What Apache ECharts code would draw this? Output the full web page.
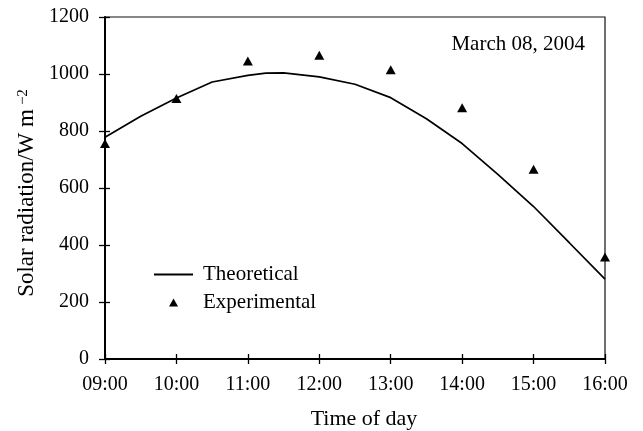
<!DOCTYPE html>
<html>
<head>
<meta charset="utf-8">
<script src="https://cdn.jsdelivr.net/npm/echarts@6/dist/echarts.min.js"></script>
<style>
  html, body { margin: 0; padding: 0; background: #ffffff; }
  #chart { width: 643px; height: 431px; }
</style>
</head>
<body>
<div id="chart"></div>
<script>
// Theoretical solar radiation curve (decimal hour of day, W m^-2)
const theoryHours  = [9.0, 9.5, 10.0, 10.5, 11.0, 11.25, 11.5, 12.0, 12.5, 13.0, 13.5, 14.0, 14.5, 15.0, 15.5, 16.0];
const theoryValues = [778, 852, 916, 972, 995, 1003, 1004, 990, 964, 917, 843, 756, 648, 535, 408, 280];

// Measured solar radiation, hourly (W m^-2)
const expHours  = [9, 10, 11, 12, 13, 14, 15, 16];
const expValues = [756, 914, 1046, 1066, 1015, 882, 666, 358];

// Axis ticks
const hourTicks  = [9, 10, 11, 12, 13, 14, 15, 16];
const hourLabels = ['09:00', '10:00', '11:00', '12:00', '13:00', '14:00', '15:00', '16:00'];
const yMin = 0, yMax = 1200, yStep = 200;

const FONT = "'Liberation Serif', 'Times New Roman', serif";
const INK = '#000000';

// Small filled triangle centred in a 39x8 legend slot
const LEGEND_TRIANGLE = 'path://M0,0 L0,0 M15,8 L19.5,0 L24,8 Z M39,8 L39,8';

const theorySeries = theoryHours.map((h, i) => [h, theoryValues[i]]);
const expSeries = expHours.map((h, i) => [h, expValues[i]]);

function hourLabel(v) {
  const i = hourTicks.indexOf(Math.round(v));
  return i >= 0 ? hourLabels[i] : '';
}

const xCommon = {
  type: 'value',
  min: hourTicks[0],
  max: hourTicks[hourTicks.length - 1],
  interval: 1,
  position: 'bottom',
  splitLine: { show: false }
};
const yCommon = {
  type: 'value',
  min: yMin,
  max: yMax,
  interval: yStep,
  position: 'left',
  splitLine: { show: false }
};

const chart = echarts.init(document.getElementById('chart'), null, { renderer: 'canvas' });

chart.setOption({
  animation: false,
  backgroundColor: '#ffffff',
  textStyle: { fontFamily: FONT, color: INK },
  grid: {
    left: 105, right: 38, top: 17, bottom: 72,
    outerBoundsMode: 'none',
    containLabel: false,
    show: true,
    borderColor: '#111111',
    borderWidth: 1.2,
    backgroundColor: 'transparent'
  },
  legend: {
    orient: 'vertical',
    left: 153,
    top: 264,
    padding: 0,
    itemWidth: 39,
    itemHeight: 8,
    itemGap: 7,
    selectedMode: false,
    textStyle: { fontFamily: FONT, fontSize: 21, color: INK, padding: [0, 0, 0, 5] },
    data: [
      { name: 'Theoretical', itemStyle: { opacity: 0 } },
      { name: 'Experimental', icon: LEGEND_TRIANGLE }
    ]
  },
  xAxis: [
    Object.assign({}, xCommon, {
      name: 'Time of day',
      nameLocation: 'middle',
      nameGap: 49,
      nameTextStyle: { fontFamily: FONT, fontSize: 22, color: INK, padding: [0, 0, 0, 18] },
      axisLine: { show: true, lineStyle: { color: INK, width: 2 } },
      axisTick: { show: true, inside: false, length: 5, lineStyle: { color: INK, width: 1.3 } },
      axisLabel: {
        margin: 16, fontFamily: FONT, fontSize: 20, color: INK,
        formatter: hourLabel
      }
    }),
    Object.assign({}, xCommon, {
      axisLine: { show: false },
      axisTick: { show: true, inside: true, length: 5, lineStyle: { color: INK, width: 1.3 } },
      axisLabel: { show: false }
    })
  ],
  yAxis: [
    Object.assign({}, yCommon, {
      name: 'Solar radiation/W m{sup|\u22122}',
      nameLocation: 'middle',
      nameGap: 64,
      nameTextStyle: {
        fontFamily: FONT, fontSize: 23, color: INK, padding: [0, 10, 0, 0],
        rich: {
          sup: { fontFamily: FONT, fontSize: 15, color: INK, verticalAlign: 'top', padding: [0, 0, 0, 4] }
        }
      },
      axisLine: { show: true, lineStyle: { color: INK, width: 2 } },
      axisTick: { show: true, inside: false, length: 6, lineStyle: { color: INK, width: 1.3 } },
      axisLabel: {
        margin: 16, fontFamily: FONT, fontSize: 20, color: INK,
        formatter: (v) => String(v)
      }
    }),
    Object.assign({}, yCommon, {
      axisLine: { show: false },
      axisTick: { show: true, inside: true, length: 5, lineStyle: { color: INK, width: 1.3 } },
      axisLabel: { show: false }
    })
  ],
  graphic: [{
    type: 'text',
    right: 58,
    top: 34,
    style: { text: 'March 08, 2004', fontFamily: FONT, fontSize: 21, fill: INK }
  }],
  series: [
    {
      name: 'Theoretical',
      type: 'line',
      xAxisIndex: 0, yAxisIndex: 0,
      data: theorySeries,
      symbol: 'none',
      smooth: false,
      lineStyle: { color: INK, width: 1.7 },
      itemStyle: { color: INK }
    },
    {
      name: 'Experimental',
      type: 'scatter',
      xAxisIndex: 0, yAxisIndex: 0,
      data: expSeries,
      symbol: 'triangle',
      symbolSize: [10, 9],
      itemStyle: { color: INK, opacity: 1 }
    }
  ]
});
</script>
</body>
</html>
